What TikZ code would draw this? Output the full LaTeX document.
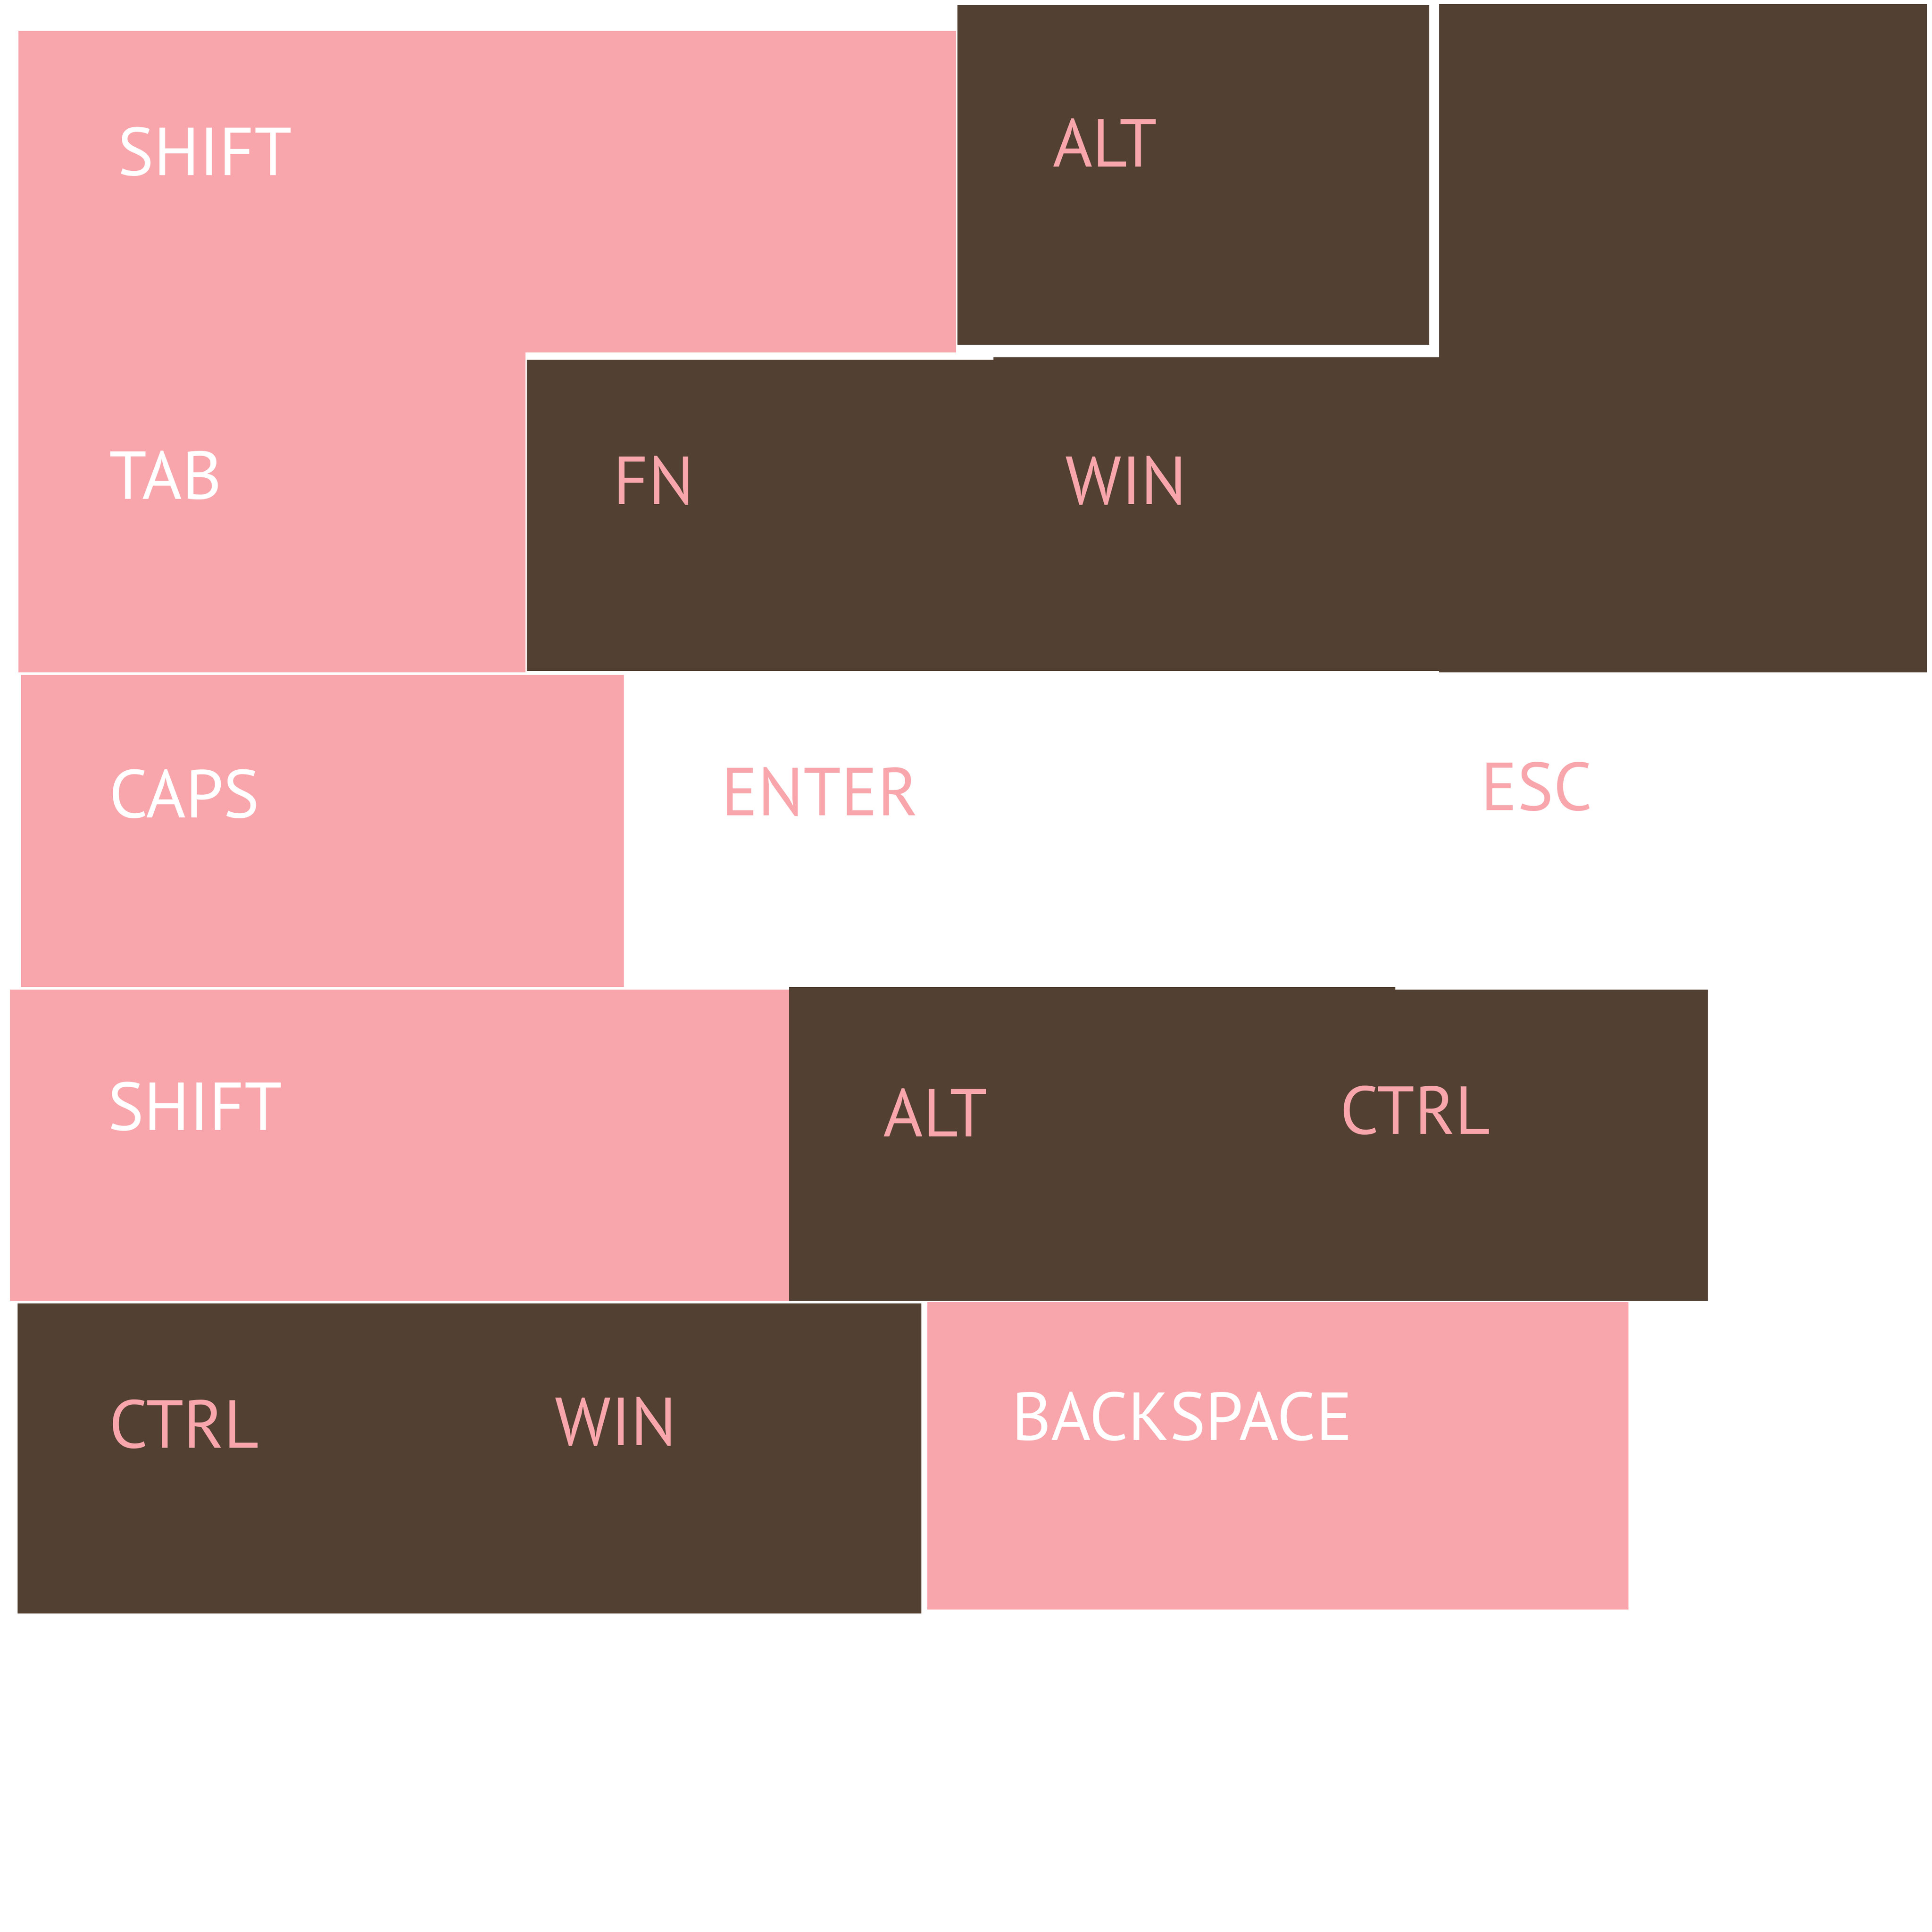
\documentclass[tikz,border=0pt]{standalone}
\usepackage{fontspec}
\setmainfont{PT Sans}
\definecolor{keypink}{HTML}{F8A6AC}
\definecolor{keybrown}{HTML}{524032}
\begin{document}
\begin{tikzpicture}[x=0.01cm,y=-0.01cm,
  pinkkey/.style={fill=keypink},
  brownkey/.style={fill=keybrown},
  lbl/.style={anchor=base west,inner sep=0pt,xshift=-0.03cm,font=\fontsize{15.5}{16}\selectfont},
  onpink/.style={lbl,text=white},
  onbrown/.style={lbl,text=keypink}]
\useasboundingbox[fill=white] (0,0) rectangle (1552,1552);
% keys
\fill[pinkkey] (15,25) rectangle (768,283);
\fill[brownkey] (769,4) rectangle (1148,277);
\fill[brownkey] (1156,3) rectangle (1548,540);
\fill[pinkkey] (15,283) rectangle (422,540);
\fill[brownkey] (423,289) rectangle (798,539);
\fill[brownkey] (798,287) rectangle (1156,539);
\fill[pinkkey] (17,542) rectangle (501,793);
\fill[pinkkey] (8,795) rectangle (634,1045);
\fill[brownkey] (634,793) rectangle (1121,1045);
\fill[brownkey] (1121,795) rectangle (1372,1045);
\fill[brownkey] (14,1047) rectangle (740,1296);
\fill[pinkkey] (745,1046) rectangle (1308,1293);
% labels
\node[onpink] (shiftA) at (97,141) {SHIFT};
\node[onbrown] (altA) at (848,134) {ALT};
\node[onpink] (tab) at (90,401) {TAB};
\node[onbrown] (fn) at (495,405) {FN};
\node[onbrown] (winA) at (858,405) {WIN};
\node[onpink] (caps) at (90,657) {CAPS};
\node[onbrown] (enter) at (582,655) {ENTER};
\node[onbrown] (esc) at (1192,651) {ESC};
\node[onpink] (shiftB) at (89,908) {SHIFT};
\node[onbrown] (altB) at (712,913) {ALT};
\node[onbrown] (ctrlA) at (1079,911) {CTRL};
\node[onbrown] (ctrlB) at (90,1163) {CTRL};
\node[onbrown] (winB) at (448,1161) {WIN};
\node[onpink] (bksp) at (815,1157) {BACKSPACE};
\end{tikzpicture}
\end{document}
